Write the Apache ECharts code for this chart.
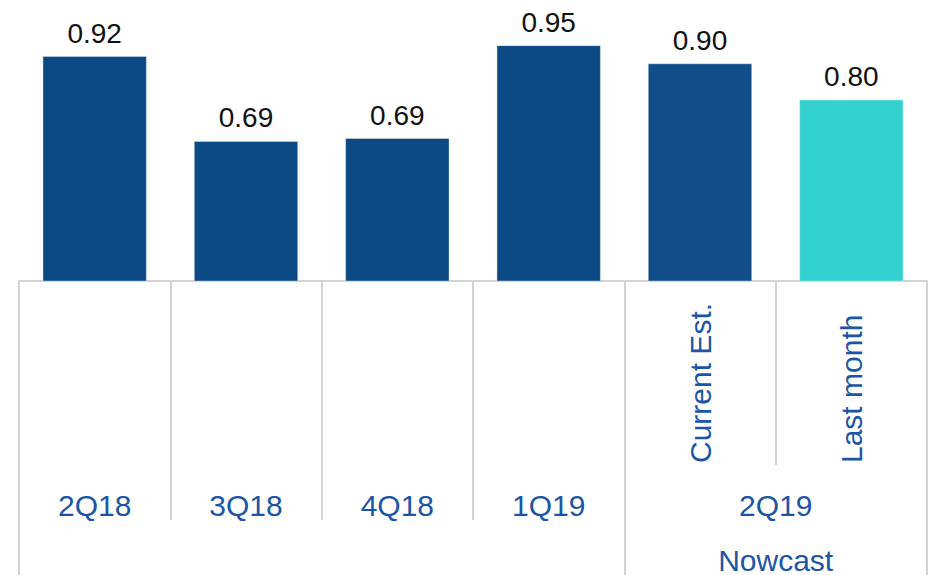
<!DOCTYPE html>
<html><head><meta charset="utf-8">
<script src="https://cdn.jsdelivr.net/npm/echarts@6/dist/echarts.min.js"></script>
<style>html,body{margin:0;padding:0;background:#fff}#c{width:930px;height:575px}</style>
</head><body><div id="c"></div>
<script>
// Data
const categories = ['2Q18', '3Q18', '4Q18', '1Q19', 'Current Est.', 'Last month'];
const values = [0.92, 0.686, 0.694, 0.95, 0.90, 0.80];
// half-step positions along the category band (13 points, boundaries and centres)
const quarterLabels = ['', '2Q18', '', '3Q18', '', '4Q18', '', '1Q19', '', '', '2Q19', '', ''];
const groupLabels = ['', '', '', '', '', '', '', '', '', '', 'Nowcast', '', ''];

const FONT = "'Liberation Sans', Arial, sans-serif";
const LINE = '#d3d3d3';
const BLUE_TXT = '#1b55a5';

const chart = echarts.init(document.getElementById('c'), null, {renderer: 'svg'});
chart.setOption({
  animation: false,
  backgroundColor: '#ffffff',
  grid: {left: 19, right: 1, top: 27, bottom: 292, containLabel: false},
  yAxis: {type: 'value', min: 0.3, max: 1.0, show: false},
  xAxis: [
    {
      type: 'category', data: categories, position: 'bottom',
      axisLine: {show: true, lineStyle: {color: LINE, width: 2}},
      axisTick: {show: true, interval: 0, alignWithLabel: false, length: 184,
                 lineStyle: {color: LINE, width: 2}},
      axisLabel: {
        interval: 0, rotate: 90, align: 'left', margin: 182,
        fontFamily: FONT, fontSize: 30, color: BLUE_TXT,
        formatter: (v, i) => (i >= 4 ? v : '')
      }
    },
    {
      type: 'category', data: quarterLabels, boundaryGap: false, position: 'bottom',
      axisLine: {show: false},
      axisTick: {show: true, length: 239, lineStyle: {color: LINE, width: 2},
                 interval: (i) => i === 2 || i === 4 || i === 6},
      axisLabel: {interval: 0, margin: 209, fontFamily: FONT, fontSize: 30, color: BLUE_TXT}
    },
    {
      type: 'category', data: groupLabels, boundaryGap: false, position: 'bottom',
      axisLine: {show: false},
      axisTick: {show: true, length: 295, lineStyle: {color: LINE, width: 2},
                 interval: (i) => i === 0 || i === 8 || i === 12},
      axisLabel: {interval: 0, margin: 264, fontFamily: FONT, fontSize: 30, color: BLUE_TXT}
    }
  ],
  series: [{
    type: 'bar', xAxisIndex: 0, data: values, barWidth: '69%',
    itemStyle: {
      color: (p) => (p.dataIndex === 5 ? '#33d0d0' : (p.dataIndex === 4 ? '#124d8a' : '#0b4a85')),
      borderColor: 'rgba(255,255,255,0.35)', borderWidth: 1
    },
    label: {
      show: true, position: 'top', distance: 9,
      fontFamily: FONT, fontSize: 28, color: '#111111',
      formatter: (p) => p.value.toFixed(2)
    }
  }]
});
</script>
</body></html>
